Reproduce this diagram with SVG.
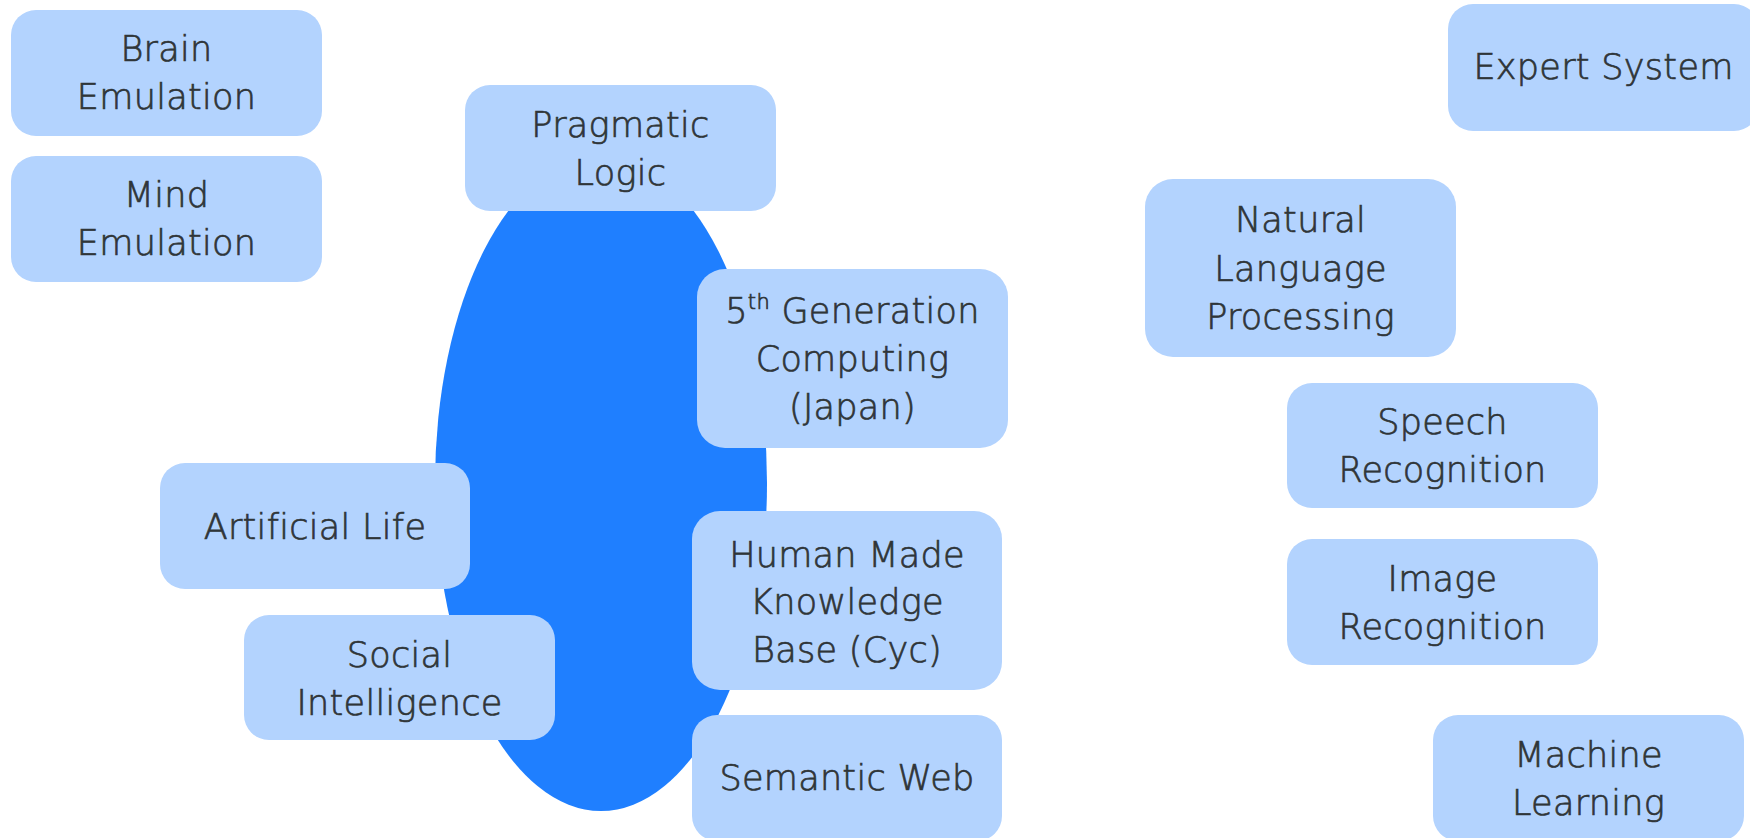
<svg xmlns="http://www.w3.org/2000/svg" width="1750" height="838" viewBox="0 0 1750 838">
<style>
.box{fill:#b3d3fe;}
.t{font-family:"DejaVu Sans","Noto Sans",sans-serif;font-weight:200;font-size:35px;letter-spacing:0.3px;fill:#2f3538;stroke:#2f3538;stroke-width:0.7px;text-anchor:middle;}
</style>
<rect width="1750" height="838" fill="#ffffff"/>
<g id="blob"><ellipse cx="601" cy="483" rx="166" ry="328" fill="#1f7fff"/></g>
<g id="connectors"></g>
<g id="brain-emulation"><rect class="box" x="11" y="10" width="311" height="126" rx="25"/><text class="t" x="166.5" y="61">Brain</text><text class="t" x="166.5" y="109">Emulation</text></g>
<g id="mind-emulation"><rect class="box" x="11" y="156" width="311" height="126" rx="25"/><text class="t" x="166.5" y="207">Mind</text><text class="t" x="166.5" y="255">Emulation</text></g>
<g id="pragmatic-logic"><rect class="box" x="465" y="85" width="311" height="126" rx="25"/><text class="t" x="620.5" y="137">Pragmatic</text><text class="t" x="620.5" y="185">Logic</text></g>
<g id="expert-system"><rect class="box" x="1448" y="4" width="311" height="127" rx="25"/><text class="t" x="1603.5" y="79">Expert System</text></g>
<g id="nlp"><rect class="box" x="1145" y="179" width="311" height="178" rx="28"/><text class="t" x="1300.5" y="232">Natural</text><text class="t" x="1300.5" y="281">Language</text><text class="t" x="1300.5" y="329">Processing</text></g>
<g id="fifth-gen"><rect class="box" x="697" y="269" width="311" height="179" rx="28"/><text class="t" x="852.5" y="323">5<tspan font-size="21" dy="-14">th</tspan><tspan dy="14"> Generation</tspan></text><text class="t" x="852.5" y="371">Computing</text><text class="t" x="852.5" y="419">(Japan)</text></g>
<g id="speech-recognition"><rect class="box" x="1287" y="383" width="311" height="125" rx="25"/><text class="t" x="1442.5" y="434">Speech</text><text class="t" x="1442.5" y="482">Recognition</text></g>
<g id="artificial-life"><rect class="box" x="160" y="463" width="310" height="126" rx="25"/><text class="t" x="315" y="539">Artificial Life</text></g>
<g id="human-made-kb"><rect class="box" x="692" y="511" width="310" height="179" rx="28"/><text class="t" x="847" y="567">Human Made</text><text class="t" x="847" y="614">Knowledge</text><text class="t" x="847" y="662">Base (Cyc)</text></g>
<g id="image-recognition"><rect class="box" x="1287" y="539" width="311" height="126" rx="25"/><text class="t" x="1442.5" y="591">Image</text><text class="t" x="1442.5" y="639">Recognition</text></g>
<g id="social-intelligence"><rect class="box" x="244" y="615" width="311" height="125" rx="25"/><text class="t" x="399.5" y="667">Social</text><text class="t" x="399.5" y="715">Intelligence</text></g>
<g id="semantic-web"><rect class="box" x="692" y="715" width="310" height="126" rx="25"/><text class="t" x="847" y="790">Semantic Web</text></g>
<g id="machine-learning"><rect class="box" x="1433" y="715" width="311" height="126" rx="25"/><text class="t" x="1588.5" y="767">Machine</text><text class="t" x="1588.5" y="815">Learning</text></g>
</svg>
